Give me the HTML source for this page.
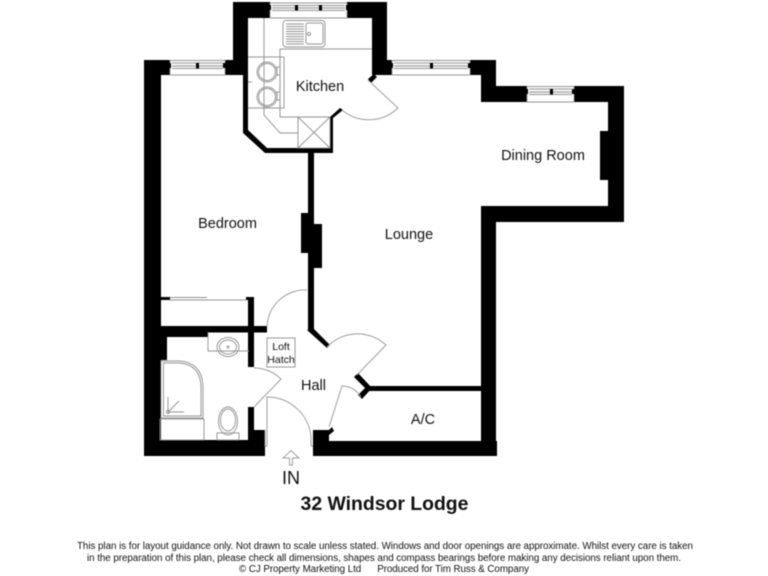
<!DOCTYPE html>
<html><head><meta charset="utf-8"><style>
html,body{margin:0;padding:0;background:#fff;width:768px;height:576px;overflow:hidden}
svg{display:block;filter:blur(0.4px)}
text{font-family:"Liberation Sans",Arial,sans-serif;fill:#111}
.g{fill:none;stroke:#939393;stroke-width:.95}
.d{fill:none;stroke:#9a9a9a;stroke-width:.95}
.k{fill:#000}
</style></head><body>
<svg width="768" height="576" viewBox="0 0 768 576" xmlns="http://www.w3.org/2000/svg">
<!-- walls -->
<g class="k">
<!-- bedroom -->
<rect x="144" y="60" width="17" height="396"/>
<rect x="144" y="60" width="26" height="15"/>
<rect x="225" y="60" width="23" height="15"/>
<rect x="144" y="440" width="121" height="16"/>
<rect x="160" y="326" width="48" height="11"/>
<rect x="160" y="326" width="107" height="6.5"/>
<rect x="160" y="337" width="7" height="23"/>
<rect x="160" y="297" width="10" height="3"/>
<rect x="246" y="297" width="8" height="3"/>
<rect x="248" y="297" width="6" height="70"/>
<rect x="248" y="407" width="6" height="34"/>
<rect x="248" y="430" width="17" height="26"/>
<!-- kitchen -->
<rect x="233" y="2" width="37" height="16"/>
<rect x="347" y="2" width="40" height="16"/>
<rect x="233" y="2" width="15" height="73"/>
<rect x="372" y="2" width="15" height="73"/>
<rect x="372" y="60" width="20" height="15"/>
<polygon points="243,75 248,75 248,130 267,148 330,148 330,117 340,108 343,110 333,118 333,153 265,153 243,133"/>
<polygon points="368,79 374,74 377,77 371,83"/>
<!-- lounge top -->
<rect x="470" y="60" width="26" height="15"/>
<rect x="481" y="60" width="15" height="42"/>
<rect x="481" y="86" width="46" height="16"/>
<rect x="574" y="86" width="50" height="16"/>
<rect x="608" y="86" width="16" height="136"/>
<rect x="600" y="131" width="8" height="49"/>
<rect x="481" y="206" width="143" height="16"/>
<rect x="481" y="206" width="15" height="250"/>
<rect x="313" y="441" width="184" height="15"/>
<rect x="313" y="430" width="16" height="12"/>
<polygon points="329,430 332,427 334,431 329,435"/>
<!-- AC wall -->
<rect x="367" y="386" width="115" height="5"/>
<polygon points="354,377 358,373 372,388 362,399 358,395 365,388"/>
<!-- central wall -->
<rect x="308" y="153" width="6" height="178"/>
<rect x="301" y="213" width="8" height="40"/>
<rect x="313" y="224" width="9" height="44"/>
<polygon points="307,330 313,328 330,345 327,348"/>
</g>
<!-- windows -->
<g class="g">
<path d="M270 3H347M272 5.500H345M272 10.500H345M270 18H347M270 3V18M347 3V18"/>
<path d="M170 60.500H225M172 63H223M172 68.500H223M170 75H225M170 60V75M225 60V75"/>
<path d="M392 60.500H470M394 63H468M394 68.500H468M392 75H470M392 60V75M470 60V75"/>
<path d="M527 86.500H574M529 89H572M529 94.500H572M527 102H574M527 86V102M574 86V102"/>
</g>
<g fill="#bdbdbd">
<rect x="272" y="7" width="73" height="2"/>
<rect x="172" y="65" width="51" height="2"/>
<rect x="394" y="65" width="74" height="2"/>
<rect x="529" y="91" width="43" height="2"/>
</g>
<g class="k">
<rect x="295" y="5" width="3" height="5.500"/><rect x="319" y="5" width="3" height="5.500"/>
<rect x="196" y="63" width="3" height="5.500"/>
<rect x="430" y="63" width="3" height="5.500"/>
<rect x="550" y="89" width="3" height="5.500"/>
<rect x="268" y="5" width="3" height="5"/><rect x="346" y="5" width="3" height="5"/>
<rect x="168" y="63" width="3" height="5"/><rect x="223" y="63" width="3" height="5"/>
<rect x="390" y="63" width="3" height="5"/><rect x="468" y="63" width="3" height="5"/>
<rect x="525" y="89" width="3" height="5"/><rect x="572" y="89" width="3" height="5"/>
</g>
<!-- kitchen fittings -->
<g class="g">
<path d="M264 18V115L280 133H298"/>
<path d="M372 49H280V117H330"/>
<rect x="298" y="117" width="32" height="31"/><path d="M298 117L330 148M330 117L298 148"/>
<path d="M248 57H280M248 108H280M248 82H252"/>
<rect x="280" y="57" width="4" height="51"/>
<circle cx="267" cy="72" r="10"/><circle cx="267" cy="72" r="8.500"/>
<circle cx="267" cy="97" r="10"/><circle cx="267" cy="97" r="8.500"/>
<rect x="277" y="67" width="3" height="8"/><rect x="277" y="92" width="3" height="8"/>
<rect x="283" y="20.500" width="42" height="26.500" rx="3"/>
<rect x="306" y="23" width="17" height="21" rx="2"/>
<circle cx="309" cy="34" r="1.500"/>
<path d="M286 24H304M286 26.500H304M286 29H304M286 31.500H304M286 34H304M286 36.500H304M286 39H304M286 41.500H304M286 44H304"/>
<!-- bathroom -->
<path d="M161 361H180Q203 363 203 388V418H161Z"/>
<path d="M163.500 363H180Q201 365 201 388V416H163.500Z"/>
<rect x="160" y="419" width="44" height="21"/>
<path d="M168 412V397M168 412H184M168 412L179 401"/><circle cx="168" cy="412" r="1.500"/>
<path d="M208 332V351H249"/>
<ellipse cx="228" cy="347" rx="11" ry="9.500"/><ellipse cx="228" cy="347" rx="8.500" ry="7"/><circle cx="228" cy="347" r="1"/>
<ellipse cx="228" cy="421" rx="9.500" ry="14"/><ellipse cx="228" cy="420" rx="7.500" ry="11"/>
<rect x="217" y="433" width="22" height="7"/>
<!-- wardrobe -->
<path d="M170 297.500H207M207 300H246M170 300H207"/>
<!-- loft -->
<rect x="267" y="338" width="28" height="29"/>
<!-- jambs -->
<path d="M265 430V446H267M311 446H313M311 437V446"/>
</g>
<!-- doors -->
<g class="d">
<path d="M368 80L398 108A42 42 0 0 1 342 110"/>
<path d="M307 290A38 38 0 0 0 267 327"/>
<path d="M254 368A39 39 0 0 1 281 379L254 407"/>
<path d="M267 446V397A44 44 0 0 1 311 437"/>
<path d="M327 347A42 42 0 0 1 386 345L357 375"/>
<path d="M329 427L342 386A22 22 0 0 1 361 397"/>
<path d="M289.500 465V458H283L291 450.500L299 458H292.500V465Z"/>
</g>
<!-- labels -->
<g font-size="14.500" text-anchor="middle">
<text x="320" y="91">Kitchen</text>
<text x="543" y="160">Dining Room</text>
<text x="227.500" y="228">Bedroom</text>
<text x="409" y="239">Lounge</text>
<text x="313.500" y="390">Hall</text>
<text x="423" y="424">A/C</text>
</g>
<g font-size="10.500" text-anchor="middle">
<text x="281" y="350">Loft</text>
<text x="281" y="363">Hatch</text>
</g>
<text x="291" y="484" font-size="18" text-anchor="middle">IN</text>
<text x="384.500" y="510" font-size="19.400" font-weight="bold" text-anchor="middle">32 Windsor Lodge</text>
<g font-size="9.800" text-anchor="middle">
<text x="385" y="549" textLength="616">This plan is for layout guidance only. Not drawn to scale unless stated. Windows and door openings are approximate. Whilst every care is taken</text>
<text x="384" y="561" textLength="594">in the preparation of this plan, please check all dimensions, shapes and compass bearings before making any decisions reliant upon them.</text>
<text x="384" y="572" textLength="290" xml:space="preserve">© CJ Property Marketing Ltd      Produced for Tim Russ &amp; Company</text>
</g>
</svg>
</body></html>
